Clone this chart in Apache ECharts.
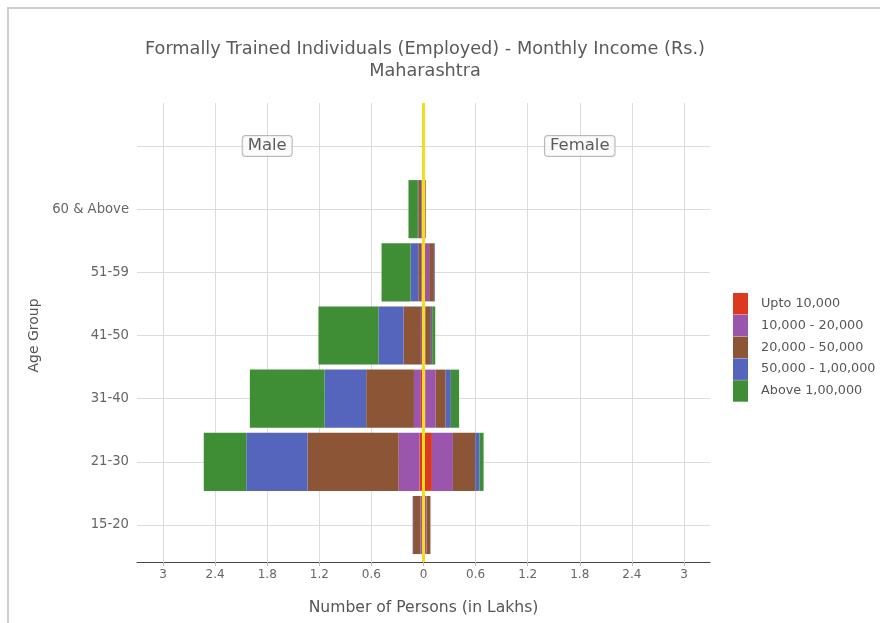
<!DOCTYPE html>
<html><head><meta charset="utf-8">
<script src="https://cdn.jsdelivr.net/npm/echarts@6/dist/echarts.min.js"></script>
<style>html,body{margin:0;padding:0;background:#fff}#c{width:880px;height:623px}</style>
</head><body><div id="c"></div>
<script>
// ---- data ----
const ageGroups = ['15-20', '21-30', '31-40', '41-50', '51-59', '60 & Above', ' '];
const incomeBands = ['Upto 10,000', '10,000 - 20,000', '20,000 - 50,000', '50,000 - 1,00,000', 'Above 1,00,000'];
const bandColors = ['#dc3a1e', '#9a55ad', '#8b5536', '#5465bb', '#3f8d35'];

// Male (lakhs), per age group (15-20 .. 60 & Above)
const maleUpto10k   = [0.005, 0.046, 0.03, 0.01, 0.005, 0.005];
const male10to20k   = [0.03, 0.24, 0.08, 0.02, 0.02, 0.02];
const male20to50k   = [0.085, 1.05, 0.55, 0.20, 0.035, 0.035];
const male50kto1L   = [0.005, 0.705, 0.48, 0.29, 0.089, 0.005];
const maleAbove1L   = [0.0, 0.49, 0.86, 0.69, 0.334, 0.108];

// Female (lakhs)
const femaleUpto10k = [0.005, 0.097, 0.02, 0.005, 0.005, 0.0];
const female10to20k = [0.03, 0.242, 0.12, 0.02, 0.06, 0.01];
const female20to50k = [0.045, 0.257, 0.115, 0.06, 0.055, 0.015];
const female50kto1L = [0.0, 0.05, 0.06, 0.015, 0.01, 0.0];
const femaleAbove1L = [0.0, 0.046, 0.095, 0.035, 0.0, 0.0];

const xTickValues = [-3, -2.4, -1.8, -1.2, -0.6, 0, 0.6, 1.2, 1.8, 2.4, 3];
const genderLabels = ['Male', 'Female'];
const genderLabelX = [-1.8, 1.8];

// ---- chart ----
const maleSets = [maleUpto10k, male10to20k, male20to50k, male50kto1L, maleAbove1L];
const femaleSets = [femaleUpto10k, female10to20k, female20to50k, female50kto1L, femaleAbove1L];
const FONT = '"DejaVu Sans", Verdana, sans-serif';

const series = [];
maleSets.forEach((arr, i) => {
  series.push({
    name: incomeBands[i], type: 'bar', stack: 'male', xAxisIndex: 0, yAxisIndex: 0,
    barCategoryGap: '8%', barGap: '-100%',
    itemStyle: { color: bandColors[i] },
    data: arr.map(v => -v)
  });
});
femaleSets.forEach((arr, i) => {
  series.push({
    name: incomeBands[i], type: 'bar', stack: 'female', xAxisIndex: 0, yAxisIndex: 0,
    barCategoryGap: '8%', barGap: '-100%',
    itemStyle: { color: bandColors[i] },
    data: arr
  });
});
// zero reference line
series.push({
  type: 'scatter', xAxisIndex: 1, yAxisIndex: 1, data: [], silent: true, z: 6,
  markLine: {
    silent: true, symbol: ['none', 'none'], label: { show: false },
    lineStyle: { color: '#f4dc1c', width: 3, type: 'solid' },
    data: [{ xAxis: 0 }]
  }
});
// Male / Female annotations
series.push({
  type: 'scatter', xAxisIndex: 0, yAxisIndex: 0, symbolSize: 0, silent: true, z: 7,
  data: genderLabels.map((g, i) => ({ name: g, value: [genderLabelX[i], ageGroups.length - 1] })),
  label: {
    show: true, position: 'inside', formatter: '{b}', fontFamily: FONT,
    fontSize: 16.5, color: '#333', backgroundColor: '#fafafa',
    borderColor: '#a8a8a8', borderWidth: 1, borderRadius: 3, padding: [2, 5, 1, 5]
  }
});

const option = {
  animation: false,
  backgroundColor: '#fff',
  textStyle: { fontFamily: FONT },
  title: {
    text: 'Formally Trained Individuals (Employed) - Monthly Income (Rs.)\nMaharashtra',
    left: 420, top: 33, textAlign: 'center',
    textStyle: { fontSize: 17.7, fontWeight: 'normal', color: '#5a5a5a', lineHeight: 22, fontFamily: FONT }
  },
  legend: {
    data: incomeBands, orient: 'vertical', left: 728, top: 288,
    itemWidth: 15, itemHeight: 21.5, itemGap: 0.3, icon: 'rect',
    textStyle: { fontSize: 12.8, color: '#555', fontFamily: FONT, padding: [0, 0, 0, 8] }, selectedMode: false
  },
  graphic: [{
    type: 'rect', silent: true, z: -10,
    shape: { x: 8, y: 8, width: 1000, height: 1000 },
    style: { fill: 'none', stroke: '#cfcfcf', lineWidth: 2 }
  }],
  grid: [
    { left: 137, right: 170, top: 114.4, bottom: 66.4 },
    { left: 137, right: 170, top: 103, bottom: 61 }
  ],
  xAxis: [
    { type: 'value', gridIndex: 0, min: -3.3, max: 3.3, show: false, splitLine: { show: false } },
    {
      type: 'value', gridIndex: 1, min: -3.3, max: 3.3,
      name: 'Number of Persons (in Lakhs)', nameLocation: 'middle', nameGap: 38,
      nameTextStyle: { fontSize: 15.6, color: '#555', fontFamily: FONT },
      axisLine: { show: true, lineStyle: { color: '#444', width: 1 } },
      axisTick: { show: true, length: 4, customValues: xTickValues, lineStyle: { color: '#bbb' } },
      axisLabel: { customValues: xTickValues, fontSize: 12, color: '#666', margin: 7,
        formatter: v => String(Math.abs(v)) },
      splitLine: { show: true, lineStyle: { color: '#dcdcdc', width: 1 } }
    }
  ],
  yAxis: [
    {
      type: 'category', gridIndex: 0, data: ageGroups,
      name: 'Age Group', nameLocation: 'middle', nameRotate: 90, nameGap: 88,
      nameTextStyle: { fontSize: 14, color: '#555', fontFamily: FONT },
      axisLine: { show: false },
      axisTick: { show: true, alignWithLabel: true, length: 4, lineStyle: { color: '#bbb' } },
      axisLabel: { fontSize: 13.2, color: '#666', margin: 8 },
      splitLine: { show: true, alignWithLabel: true, lineStyle: { color: '#dcdcdc', width: 1 } }
    },
    { type: 'value', gridIndex: 1, min: 0, max: 1, show: false, splitLine: { show: false } }
  ],
  series
};
const chart = echarts.init(document.getElementById('c'), null, { renderer: 'canvas' });
chart.setOption(option);
</script></body></html>
